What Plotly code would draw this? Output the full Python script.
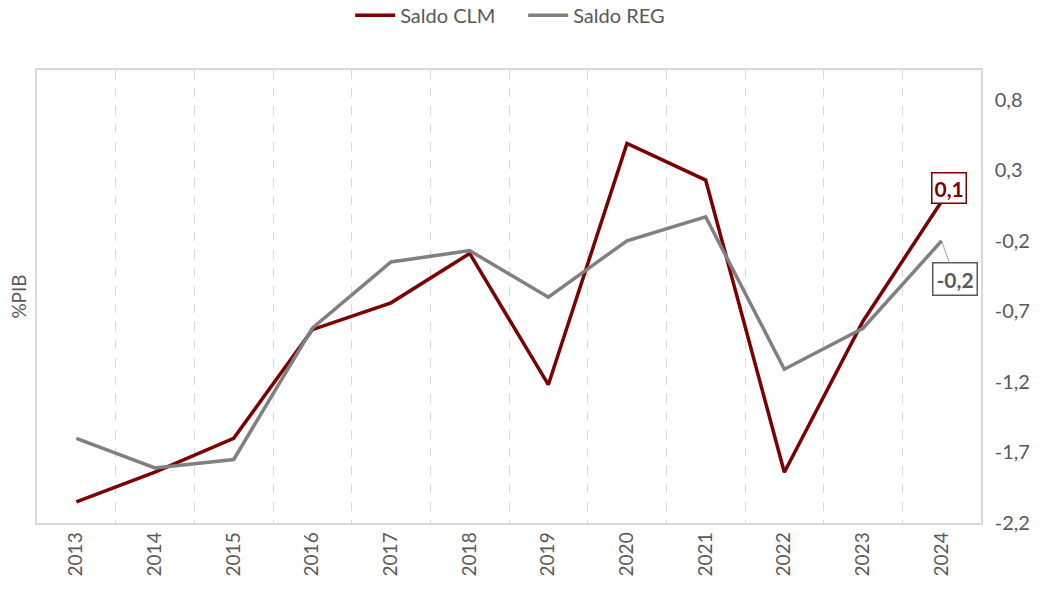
import plotly.graph_objects as go

years = ["2013", "2014", "2015", "2016", "2017", "2018", "2019", "2020", "2021", "2022", "2023", "2024"]
saldo_clm = [-2.05, -1.84, -1.60, -0.83, -0.64, -0.29, -1.22, 0.49, 0.23, -1.84, -0.77, 0.08]
saldo_reg = [-1.60, -1.81, -1.75, -0.82, -0.35, -0.27, -0.60, -0.20, -0.03, -1.11, -0.82, -0.20]
y_ticks = [-2.2, -1.7, -1.2, -0.7, -0.2, 0.3, 0.8]
clm_label = "0,1"
reg_label = "-0,2"

CLM_COLOR = "#7B0000"
REG_COLOR = "#808080"
TXT = "#595959"
FONT = "Lato, 'Open Sans', sans-serif"

last = len(years) - 1

fig = go.Figure()
fig.add_trace(go.Scatter(x=years, y=saldo_clm, mode="lines", name="Saldo CLM",
                         line=dict(color=CLM_COLOR, width=3.5)))
fig.add_trace(go.Scatter(x=years, y=saldo_reg, mode="lines", name="Saldo REG",
                         line=dict(color=REG_COLOR, width=3.5)))

fig.add_annotation(x=last, y=saldo_clm[last], xref="x", yref="y",
                   text="<b>" + clm_label + "</b>", showarrow=False,
                   yshift=13, xshift=7, font=dict(color=CLM_COLOR, size=21, family=FONT),
                   bordercolor=CLM_COLOR, borderwidth=1.5, bgcolor="white", borderpad=2)
fig.add_annotation(x=last, y=saldo_reg[last], xref="x", yref="y",
                   text="<b>" + reg_label + "</b>", showarrow=True,
                   arrowhead=0, arrowwidth=1, arrowcolor="#a0a0a0", ax=13, ay=38,
                   xanchor="center", yanchor="middle", standoff=0,
                   font=dict(color=TXT, size=21, family=FONT),
                   bordercolor=TXT, borderwidth=1.5, bgcolor="white", borderpad=3)

fig.add_annotation(x=-0.02, xref="paper", xanchor="center", y=0.5, yref="paper",
                   text="%PIB", textangle=-90, showarrow=False,
                   font=dict(color=TXT, size=19, family=FONT))

fig.update_layout(
    width=1046, height=589,
    margin=dict(l=37, r=65, t=70, b=66),
    paper_bgcolor="white", plot_bgcolor="white",
    font=dict(family=FONT, color=TXT, size=18),
    legend=dict(orientation="h", x=0.515, xanchor="center", y=0.974, yref="container",
                yanchor="middle", font=dict(size=20, color=TXT), itemwidth=40,
                entrywidth=118, entrywidthmode="pixels", traceorder="normal"),
    showlegend=True,
)
fig.update_xaxes(type="category", tickson="boundaries", showgrid=True,
                 gridcolor="#d9d9d9", griddash="dash", gridwidth=1,
                 tickangle=-90, ticks="", showline=True, linecolor="#d9d9d9",
                 linewidth=1.5, mirror=True, tickfont=dict(size=19, color=TXT),
                 range=[-0.5, 11.5])
fig.update_yaxes(side="right", range=[-2.2, 1.01], tickvals=y_ticks,
                 ticktext=[f"{v:.1f}".replace(".", ",") for v in y_ticks],
                 showgrid=False, zeroline=False,
                 showline=True, linecolor="#d9d9d9", linewidth=1.5, mirror=True,
                 ticks="outside", ticklen=8, tickcolor="rgba(0,0,0,0)",
                 tickfont=dict(size=20, color=TXT))

fig.write_html("out.html", config={"displayModeBar": False},
               post_script="document.body.style.margin='0';")
